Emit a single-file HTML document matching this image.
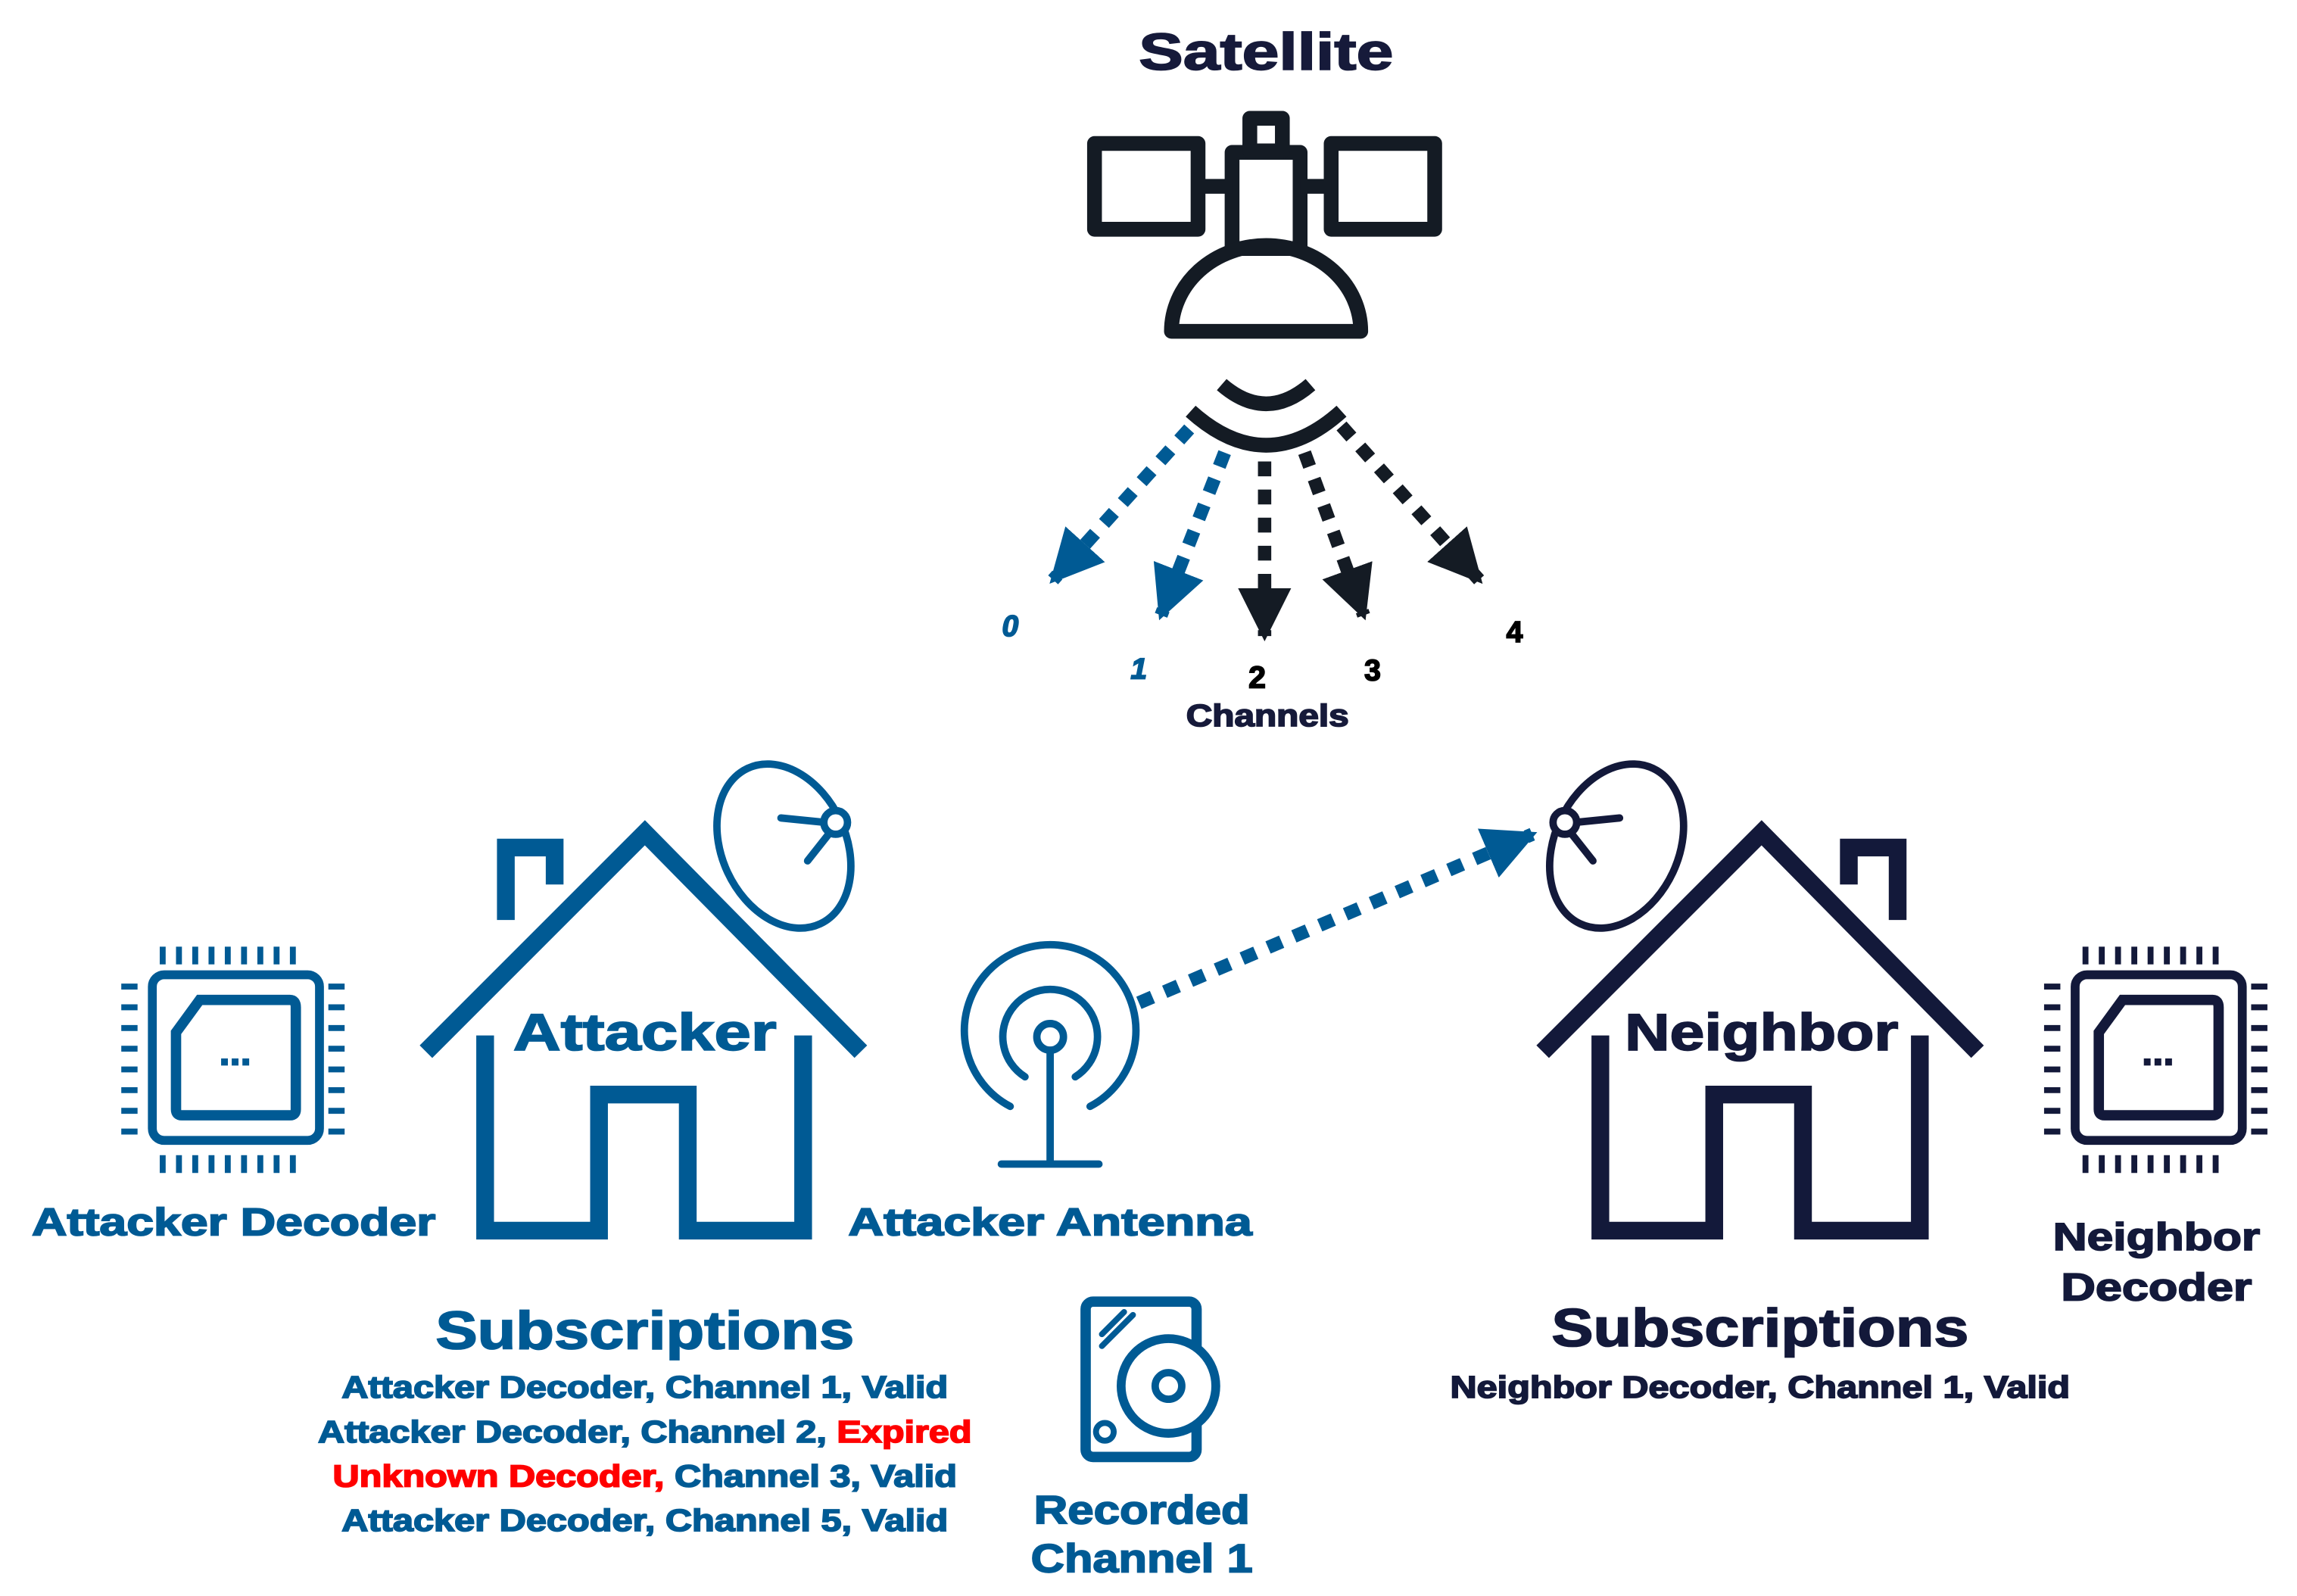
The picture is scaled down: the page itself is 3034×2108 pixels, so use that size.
<!DOCTYPE html>
<html><head><meta charset="utf-8"><style>
html,body{margin:0;padding:0;background:#fff;}
svg{display:block;}
text{font-family:"Liberation Sans",Arial,sans-serif;font-weight:bold;stroke-width:0.9;}
</style></head><body>
<svg width="3034" height="2108" viewBox="0 0 1553 1079" preserveAspectRatio="none" xmlns="http://www.w3.org/2000/svg">
<defs>
<marker id="hb" viewBox="0 0 10 10" refX="9" refY="5" markerWidth="4" markerHeight="4" orient="auto" markerUnits="strokeWidth"><path d="M0,0 L10,5 L0,10 Z" fill="#005a94"/></marker>
<marker id="hd" viewBox="0 0 10 10" refX="9" refY="5" markerWidth="4" markerHeight="4" orient="auto" markerUnits="strokeWidth"><path d="M0,0 L10,5 L0,10 Z" fill="#141b24"/></marker>
</defs>
<rect width="1553" height="1079" fill="#fff"/>

<!-- Satellite -->
<text x="856" y="47" font-size="35" text-anchor="middle" fill="#161a3a" stroke="#161a3a" textLength="172" lengthAdjust="spacingAndGlyphs">Satellite</text>
<g fill="none" stroke="#141b24" stroke-width="10" stroke-linejoin="round">
<rect x="740" y="97" width="70" height="58"/>
<rect x="900" y="97" width="70" height="58"/>
<rect x="833" y="103" width="46" height="65"/>
<rect x="845" y="80" width="22" height="22"/>
<line x1="810" y1="126" x2="833" y2="126"/>
<line x1="879" y1="126" x2="900" y2="126"/>
<path d="M792,224 A64,58 0 0 1 920,224 Z"/>
<path d="M826,260 Q856,286 886,260"/>
<path d="M805,278 Q856,324 907,278"/>
</g>
<g fill="none" stroke-width="9" stroke-dasharray="10,9">
<line x1="804" y1="290" x2="712" y2="392" stroke="#005a94" marker-end="url(#hb)"/>
<line x1="828" y1="306" x2="785" y2="416" stroke="#005a94" marker-end="url(#hb)"/>
<line x1="855" y1="312" x2="855" y2="430" stroke="#141b24" marker-end="url(#hd)"/>
<line x1="882" y1="306" x2="922" y2="416" stroke="#141b24" marker-end="url(#hd)"/>
<line x1="907" y1="288" x2="1000" y2="392" stroke="#141b24" marker-end="url(#hd)"/>
</g>
<text x="683" y="430" font-size="20" font-style="italic" text-anchor="middle" fill="#005a94" stroke="#005a94">0</text>
<text x="770" y="459" font-size="20" font-style="italic" text-anchor="middle" fill="#005a94" stroke="#005a94">1</text>
<text x="850" y="465" font-size="21" text-anchor="middle" fill="#000" stroke="#000">2</text>
<text x="928" y="460" font-size="20" text-anchor="middle" fill="#000" stroke="#000">3</text>
<text x="1024" y="434" font-size="20" text-anchor="middle" fill="#000" stroke="#000">4</text>
<text x="857" y="491" font-size="21" text-anchor="middle" fill="#161a3a" stroke="#161a3a" textLength="110" lengthAdjust="spacingAndGlyphs">Channels</text>

<!-- Attacker house -->
<g fill="none" stroke="#005a94" stroke-width="12">
<polyline points="288,711 436,563 582,711"/>
<polyline points="342,622 342,573 375,573 375,598"/>
<polyline points="328,700 328,832 405,832 405,740 465,740 465,832 543,832 543,700"/>
</g>
<text x="436" y="710" font-size="35" text-anchor="middle" fill="#005a94" stroke="#005a94" textLength="178" lengthAdjust="spacingAndGlyphs">Attacker</text>
<g fill="none" stroke="#005a94" stroke-width="5" stroke-linecap="round">
<ellipse cx="530" cy="572" rx="42" ry="58" transform="rotate(-25 530 572)"/>
<line x1="528" y1="553" x2="558" y2="556"/>
<line x1="546" y1="582" x2="561" y2="563"/>
<circle cx="565" cy="556" r="8" fill="#fff"/>
</g>

<!-- Attacker decoder chip -->
<g fill="none" stroke="#005a94">
<rect x="103" y="659" width="113" height="112" rx="8" stroke-width="6"/>
<path d="M119,698 L135,676 L196,676 Q200,676 200,681 L200,750 Q200,754 196,754 L123,754 Q119,754 119,750 Z" stroke-width="7"/>
<g stroke-width="4">
<path d="M110,640v12M121,640v12M132,640v12M143,640v12M154,640v12M165,640v12M176,640v12M187,640v12M198,640v12"/>
<path d="M110,781v12M121,781v12M132,781v12M143,781v12M154,781v12M165,781v12M176,781v12M187,781v12M198,781v12"/>
<path d="M82,667h11M82,681h11M82,695h11M82,709h11M82,723h11M82,737h11M82,751h11M82,765h11"/>
<path d="M222,667h11M222,681h11M222,695h11M222,709h11M222,723h11M222,737h11M222,751h11M222,765h11"/>
</g>
</g>
<text x="159" y="720" font-size="26" text-anchor="middle" fill="#005a94" stroke="#005a94">...</text>
<text x="158" y="835" font-size="26" text-anchor="middle" fill="#005a94" stroke="#005a94" textLength="273" lengthAdjust="spacingAndGlyphs">Attacker Decoder</text>

<!-- Attacker antenna -->
<g fill="none" stroke="#005a94" stroke-width="5" stroke-linecap="round">
<circle cx="710" cy="701" r="9"/>
<path d="M693,728 A32,32 0 1 1 727,728"/>
<path d="M683,748 A58,58 0 1 1 737,748"/>
<line x1="710" y1="710" x2="710" y2="785"/>
<line x1="677" y1="787" x2="743" y2="787"/>
</g>
<text x="710" y="835" font-size="26" text-anchor="middle" fill="#005a94" stroke="#005a94" textLength="273" lengthAdjust="spacingAndGlyphs">Attacker Antenna</text>
<line x1="770" y1="678" x2="1036" y2="564" stroke="#005a94" stroke-width="9" stroke-dasharray="10,9" marker-end="url(#hb)"/>

<!-- Neighbor house -->
<g fill="none" stroke="#13193a" stroke-width="12">
<polyline points="1043,711 1191,563 1337,711"/>
<polyline points="1250,598 1250,573 1283,573 1283,622"/>
<polyline points="1082,700 1082,832 1159,832 1159,740 1219,740 1219,832 1298,832 1298,700"/>
</g>
<text x="1191" y="710" font-size="35" text-anchor="middle" fill="#13193a" stroke="#13193a" textLength="185" lengthAdjust="spacingAndGlyphs">Neighbor</text>
<g fill="none" stroke="#13193a" stroke-width="5" stroke-linecap="round">
<ellipse cx="1093" cy="572" rx="42" ry="58" transform="rotate(25 1093 572)"/>
<line x1="1095" y1="553" x2="1065" y2="556"/>
<line x1="1077" y1="582" x2="1062" y2="563"/>
<circle cx="1058" cy="556" r="8" fill="#fff"/>
</g>

<!-- Neighbor decoder -->
<g fill="none" stroke="#13193a" transform="translate(1300,0)">
<rect x="103" y="659" width="113" height="112" rx="8" stroke-width="6"/>
<path d="M119,698 L135,676 L196,676 Q200,676 200,681 L200,750 Q200,754 196,754 L123,754 Q119,754 119,750 Z" stroke-width="7"/>
<g stroke-width="4">
<path d="M110,640v12M121,640v12M132,640v12M143,640v12M154,640v12M165,640v12M176,640v12M187,640v12M198,640v12"/>
<path d="M110,781v12M121,781v12M132,781v12M143,781v12M154,781v12M165,781v12M176,781v12M187,781v12M198,781v12"/>
<path d="M82,667h11M82,681h11M82,695h11M82,709h11M82,723h11M82,737h11M82,751h11M82,765h11"/>
<path d="M222,667h11M222,681h11M222,695h11M222,709h11M222,723h11M222,737h11M222,751h11M222,765h11"/>
</g>
</g>
<text x="1459" y="720" font-size="26" text-anchor="middle" fill="#13193a" stroke="#13193a">...</text>
<text x="1458" y="845" font-size="26" text-anchor="middle" fill="#13193a" stroke="#13193a" textLength="140" lengthAdjust="spacingAndGlyphs">Neighbor</text>
<text x="1458" y="879" font-size="26" text-anchor="middle" fill="#13193a" stroke="#13193a" textLength="129" lengthAdjust="spacingAndGlyphs">Decoder</text>

<!-- Subscriptions -->
<text x="436" y="912" font-size="36" text-anchor="middle" fill="#005a94" stroke="#005a94" textLength="283" lengthAdjust="spacingAndGlyphs">Subscriptions</text>
<g font-size="21" text-anchor="middle" fill="#005a94" stroke="#005a94" stroke-width="0.5">
<text x="436" y="945" textLength="410" lengthAdjust="spacingAndGlyphs">Attacker Decoder, Channel 1, Valid</text>
<text x="436" y="975" textLength="442" lengthAdjust="spacingAndGlyphs">Attacker Decoder, Channel 2, <tspan fill="#ff0000" stroke="#ff0000">Expired</tspan></text>
<text x="436" y="1005" textLength="422" lengthAdjust="spacingAndGlyphs"><tspan fill="#ff0000" stroke="#ff0000">Unknown Decoder,</tspan> Channel 3, Valid</text>
<text x="436" y="1035" textLength="410" lengthAdjust="spacingAndGlyphs">Attacker Decoder, Channel 5, Valid</text>
</g>
<text x="1190" y="910" font-size="36" text-anchor="middle" fill="#13193a" stroke="#13193a" textLength="282" lengthAdjust="spacingAndGlyphs">Subscriptions</text>
<text x="1190" y="945" font-size="21" text-anchor="middle" fill="#13193a" stroke="#13193a" stroke-width="0.5" textLength="419" lengthAdjust="spacingAndGlyphs">Neighbor Decoder, Channel 1, Valid</text>

<!-- Recorded disk -->
<g fill="none" stroke="#005a94" stroke-linecap="round">
<rect x="734" y="880" width="75" height="105" rx="5" stroke-width="7"/>
<circle cx="790" cy="937" r="32" stroke-width="6" fill="#fff"/>
<circle cx="790" cy="937" r="9" stroke-width="5"/>
<circle cx="747" cy="968" r="6" stroke-width="4"/>
<line x1="745" y1="902" x2="760" y2="887" stroke-width="4"/>
<line x1="745" y1="910" x2="766" y2="889" stroke-width="4"/>
</g>
<text x="772" y="1030" font-size="27" text-anchor="middle" fill="#005a94" stroke="#005a94" textLength="146" lengthAdjust="spacingAndGlyphs">Recorded</text>
<text x="772" y="1063" font-size="27" text-anchor="middle" fill="#005a94" stroke="#005a94" textLength="150" lengthAdjust="spacingAndGlyphs">Channel 1</text>
</svg>
</body></html>
